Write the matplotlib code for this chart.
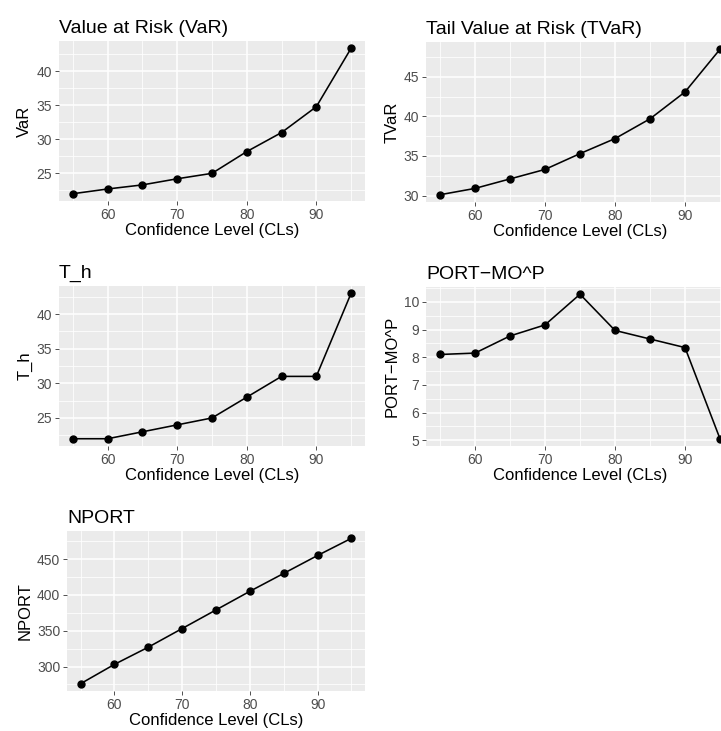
#!/usr/bin/env python3

"""Risk measures across confidence levels, drawn in a ggplot2 look."""

import matplotlib

matplotlib.use("Agg")

import matplotlib.pyplot as plt
from matplotlib.ticker import MultipleLocator

confidence_levels = [55, 60, 65, 70, 75, 80, 85, 90, 95]

var_values = [22.0, 22.7, 23.3, 24.2, 25.0, 28.2, 31.0, 34.8, 43.4]
tvar_values = [30.1, 30.9, 32.1, 33.3, 35.3, 37.2, 39.7, 43.1, 48.5]
t_h_values = [22, 22, 23, 24, 25, 28, 31, 31, 43]
port_mop_values = [8.1, 8.15, 8.77, 9.17, 10.28, 8.97, 8.66, 8.35, 5.05]
nport_values = [276, 303, 327, 353, 379, 405, 430, 455, 479]

# (title, y label, values, major y step, panel box in pixels: left, top, right, bottom)
panels = [
    ("Value at Risk (VaR)", "VaR", var_values, 5, (59, 41, 365, 201)),
    ("Tail Value at Risk (TVaR)", "TVaR", tvar_values, 5, (426, 42, 734, 202)),
    ("T_h", "T_h", t_h_values, 5, (59, 286, 365, 446)),
    ("PORT\u2212MO^P", "PORT\u2212MO^P", port_mop_values, 1, (426, 287, 734, 446)),
    ("NPORT", "NPORT", nport_values, 50, (67, 531, 365, 691)),
]

FIG_W, FIG_H = 721, 731

plt.rcParams["font.family"] = ["Liberation Sans", "DejaVu Sans"]

fig = plt.figure(figsize=(FIG_W / 100, FIG_H / 100), dpi=100)

for title, ylabel, values, step, (left, top, right, bottom) in panels:
    ax = fig.add_axes([
        left / FIG_W,
        1 - bottom / FIG_H,
        (right - left) / FIG_W,
        (bottom - top) / FIG_H,
    ])
    ax.set_facecolor("#EBEBEB")
    for spine in ax.spines.values():
        spine.set_visible(False)

    ax.plot(confidence_levels, values, color="black", linewidth=1.15,
            marker="o", markersize=5, zorder=3)
    ax.margins(x=0.05, y=0.05)

    ax.xaxis.set_major_locator(MultipleLocator(10))
    ax.xaxis.set_minor_locator(MultipleLocator(5))
    ax.yaxis.set_major_locator(MultipleLocator(step))
    ax.yaxis.set_minor_locator(MultipleLocator(step / 2))

    ax.grid(which="major", color="white", linewidth=1.1)
    ax.grid(which="minor", color="white", linewidth=0.55)
    ax.set_axisbelow(True)

    ax.tick_params(which="major", length=2.9, width=0.6, color="#333333",
                   labelsize=10, labelcolor="#4D4D4D", pad=2.0)
    ax.tick_params(which="minor", length=0)

    ax.set_xlabel("Confidence Level (CLs)", fontsize=12, labelpad=1.0)
    ax.set_ylabel(ylabel, fontsize=12, labelpad=3)
    ax.set_title(title, loc="left", fontsize=14, pad=6)

fig.savefig("out.png", dpi=100)
plt.close(fig)
